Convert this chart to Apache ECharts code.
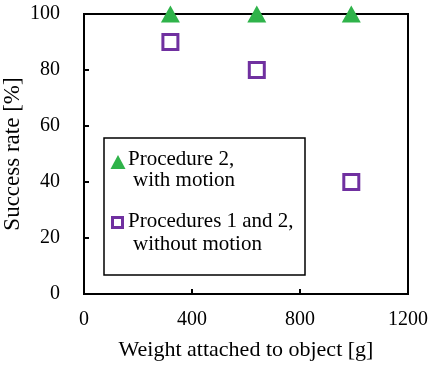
<!DOCTYPE html>
<html><head><meta charset="utf-8">
<script src="https://cdn.jsdelivr.net/npm/echarts@6/dist/echarts.min.js"></script>
<style>html,body{margin:0;padding:0;background:#fff}#c{width:432px;height:365px}</style>
</head><body><div id="c"></div>
<script>
const withMotionX = [320, 640, 990];
const withMotionY = [100, 100, 100];
const withoutMotionX = [320, 640, 990];
const withoutMotionY = [90, 80, 40];
const xTicks = [0, 400, 800, 1200];
const yTicks = [0, 20, 40, 60, 80, 100];
const seriesNames = ['Procedure 2,', 'with motion', 'Procedures 1 and 2,', 'without motion'];

const green = '#2fb34a', purple = '#7030a0';
const font = 'Liberation Serif';
const lf = '21px "Liberation Serif"';
const chart = echarts.init(document.getElementById('c'));
chart.setOption({
  animation: false,
  grid: {left: 84, right: 24, top: 14, bottom: 71, show: true, borderColor: '#000', borderWidth: 2,
    backgroundColor: 'transparent', containLabel: false, outerBoundsMode: 'none'},
  xAxis: {type: 'value', min: xTicks[0], max: xTicks[xTicks.length-1], interval: 400,
    name: 'Weight attached to object [g]', nameLocation: 'middle', nameGap: 45, nameMoveOverlap: false,
    nameTextStyle: {fontFamily: font, fontSize: 22, color: '#000'},
    axisLine: {lineStyle: {color: '#000', width: 2}},
    axisTick: {inside: true, length: 5, lineStyle: {color: '#000', width: 2}},
    axisLabel: {fontFamily: font, fontSize: 20, color: '#000', margin: 16, formatter: v => String(v)},
    splitLine: {show: false}},
  yAxis: {type: 'value', min: yTicks[0], max: yTicks[yTicks.length-1], interval: 20,
    name: 'Success rate [%]', nameLocation: 'middle', nameGap: 60, nameMoveOverlap: false,
    nameTextStyle: {fontFamily: font, fontSize: 23, color: '#000'},
    axisLine: {lineStyle: {color: '#000', width: 2}},
    axisTick: {inside: true, length: 5, lineStyle: {color: '#000', width: 2}},
    axisLabel: {fontFamily: font, fontSize: 20, color: '#000', margin: 24},
    splitLine: {show: false}},
  series: [
    {name: 'with', type: 'scatter', symbol: 'triangle', symbolSize: [19, 17],
     itemStyle: {color: green, opacity: 1},
     data: withMotionX.map((x, i) => [x, withMotionY[i]]), z: 3},
    {name: 'without', type: 'scatter', symbol: 'rect', symbolSize: 15,
     itemStyle: {color: '#fff', borderColor: purple, borderWidth: 3, opacity: 1},
     data: withoutMotionX.map((x, i) => [x, withoutMotionY[i]]), z: 3}
  ],
  graphic: [
    {type: 'rect', shape: {x: 104, y: 138, width: 201, height: 137},
     style: {fill: '#fff', stroke: '#000', lineWidth: 1.5}, z: 10},
    {type: 'polygon', shape: {points: [[118, 155], [125.5, 169], [110.5, 169]]}, style: {fill: green}, z: 11},
    {type: 'text', x: 128, y: 149, style: {text: seriesNames[0], font: lf, fill: '#000'}, z: 11},
    {type: 'text', x: 133, y: 170, style: {text: seriesNames[1], font: lf, fill: '#000'}, z: 11},
    {type: 'rect', shape: {x: 112.5, y: 217.5, width: 10, height: 10}, style: {fill: '#fff', stroke: purple, lineWidth: 3}, z: 11},
    {type: 'text', x: 128, y: 211, style: {text: seriesNames[2], font: lf, fill: '#000'}, z: 11},
    {type: 'text', x: 133, y: 234, style: {text: seriesNames[3], font: lf, fill: '#000'}, z: 11}
  ]
});
</script></body></html>
